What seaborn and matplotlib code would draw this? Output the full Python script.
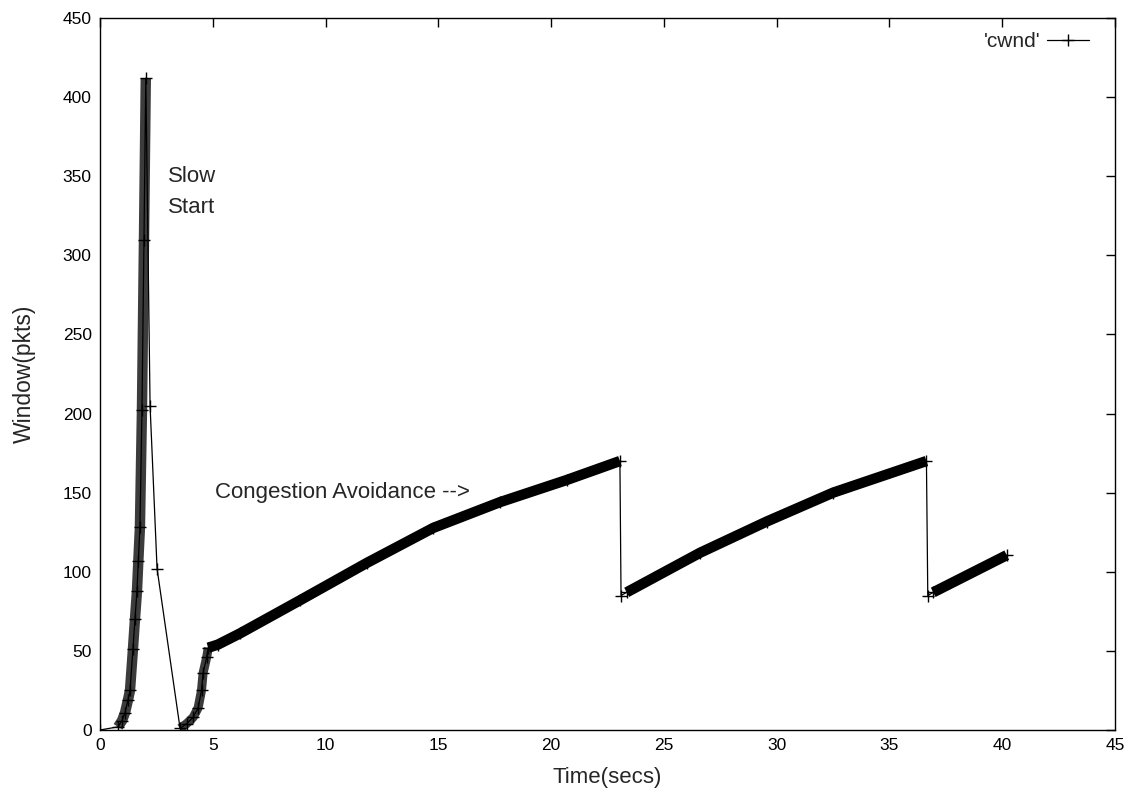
import matplotlib
matplotlib.use("Agg")
import matplotlib.pyplot as plt
import seaborn as sns
import pandas as pd

# ---- data (time in s, cwnd in packets) ----
ss1_t = [0.0, 0.80, 0.98, 1.11, 1.24, 1.33, 1.46, 1.55, 1.64, 1.70, 1.77, 1.86, 1.95, 2.03]
ss1_w = [0, 2, 6, 11, 19, 25, 51, 70, 88, 107, 128, 202, 310, 412]
drop_t = [2.22, 2.53, 3.55]
drop_w = [205, 102, 1]
ss2_t = [3.84, 4.13, 4.35, 4.50, 4.57, 4.73, 4.80, 5.23, 6.20]
ss2_w = [4, 8, 14, 25, 36, 46, 52, 54, 61]
ca1_t = [8.87, 11.83, 14.77, 17.73, 20.69, 23.05]
ca1_w = [82, 105.6, 127.7, 144, 158, 170]
cut1_t = [23.10]
cut1_w = [85]
ca2_t = [23.35, 26.6, 29.55, 32.5, 36.64]
ca2_w = [87, 112, 131.7, 150, 170]
cut2_t = [36.70]
cut2_w = [85]
ca3_t = [36.94, 40.2]
ca3_w = [87, 110.5]

x_ticks = [0, 5, 10, 15, 20, 25, 30, 35, 40, 45]
y_ticks = [0, 50, 100, 150, 200, 250, 300, 350, 400, 450]

all_t = ss1_t + drop_t + ss2_t + ca1_t + cut1_t + ca2_t + cut2_t + ca3_t
all_w = ss1_w + drop_w + ss2_w + ca1_w + cut1_w + ca2_w + cut2_w + ca3_w
df_all = pd.DataFrame({"t": all_t, "w": all_w})

sns.set_style("white")
plt.rcParams['font.family'] = ['Liberation Sans', 'DejaVu Sans']
plt.rcParams['font.size'] = 12

fig = plt.figure(figsize=(11.29, 7.99), dpi=100)
ax = fig.add_axes([100 / 1129, 69 / 799, 1015 / 1129, 712 / 799])

# dense-marker bands (the stacked '+' marks of the original)
band_ss1 = pd.DataFrame({"t": ss1_t[1:], "w": ss1_w[1:]})
band_ss2 = pd.DataFrame({"t": [3.55] + ss2_t[:7], "w": [1] + ss2_w[:7]})
band_ca1 = pd.DataFrame({"t": ss2_t[6:] + ca1_t, "w": ss2_w[6:] + ca1_w})
band_ca2 = pd.DataFrame({"t": ca2_t, "w": ca2_w})
band_ca3 = pd.DataFrame({"t": ca3_t, "w": ca3_w})

for d, col, lw in [(band_ss1, "#3c3c3c", 7.5), (band_ss2, "#3c3c3c", 6.5),
                   (band_ca1, "black", 7.5), (band_ca2, "black", 7.5),
                   (band_ca3, "black", 7.5)]:
    sns.lineplot(data=d, x="t", y="w", sort=False, estimator=None, ax=ax,
                 color=col, lw=lw, solid_capstyle="butt", legend=False)

sns.lineplot(data=df_all, x="t", y="w", sort=False, estimator=None, ax=ax,
             color="black", lw=0.9, marker="+", markersize=9,
             markeredgewidth=1.0, markeredgecolor="black", label="'cwnd'")

ax.set_xlim(0, 45)
ax.set_ylim(0, 450)
ax.set_xticks(x_ticks)
ax.set_yticks(y_ticks)
ax.tick_params(direction="in", top=True, right=True, length=6.5, width=1,
               labelsize=12.5, pad=6, colors="black")
for s in ax.spines.values():
    s.set_visible(True)
    s.set_color("black")
    s.set_linewidth(1.0)

ax.set_xlabel("Time(secs)", fontsize=16, labelpad=10)
ax.set_ylabel("Window(pkts)", fontsize=16.5, labelpad=19)

ax.text(3.0, 350, "Slow", fontsize=16, ha="left", va="center")
ax.text(3.0, 330.5, "Start", fontsize=16, ha="left", va="center")
ax.text(5.1, 150, "Congestion Avoidance -->", fontsize=16, ha="left", va="center")

leg = ax.legend(loc="upper right", frameon=False, markerfirst=False,
                handlelength=2.0, handletextpad=0.35, fontsize=15,
                borderaxespad=0.5, bbox_to_anchor=(0.993, 1.006))

fig.savefig("out.png", dpi=100)
